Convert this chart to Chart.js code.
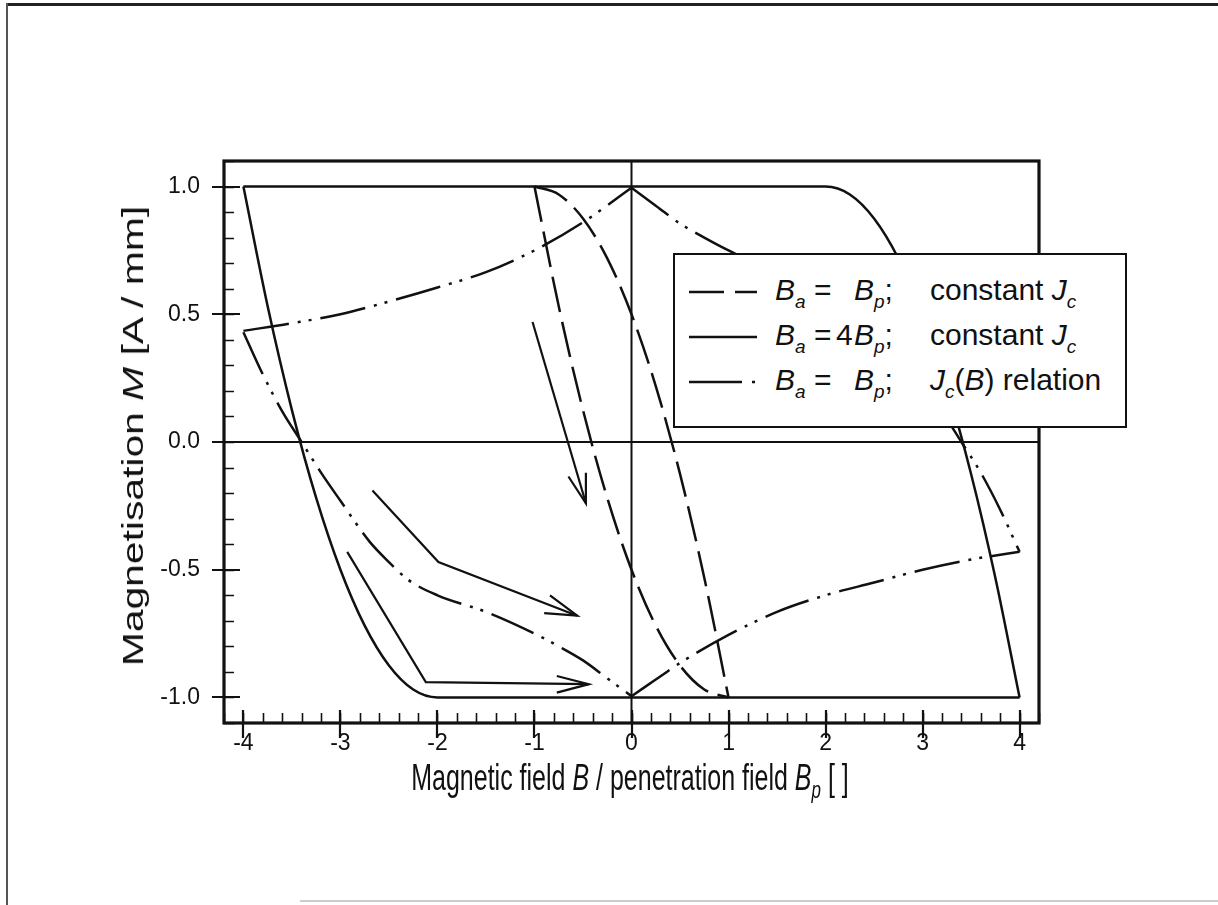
<!DOCTYPE html>
<html><head><meta charset="utf-8">
<script src="https://cdn.jsdelivr.net/npm/chart.js@4.4.1/dist/chart.umd.min.js"></script>
<style>
html,body{margin:0;padding:0;background:#fff;}
#wrap{position:relative;width:1218px;height:905px;overflow:hidden;background:#fff;font-family:"Liberation Sans",Arial,sans-serif;color:#111;}
#c{position:absolute;left:0;top:0;}
.ttl{position:absolute;white-space:nowrap;line-height:1;}
.ttl sub{font-size:0.68em;vertical-align:-0.3em;line-height:0;}
#legend{position:absolute;left:673px;top:253px;width:450px;height:171px;border:2px solid #111;background:#fff;font-size:30px;}
#legend .t{position:absolute;white-space:nowrap;line-height:1;}
#legend sub{font-size:19px;vertical-align:-8px;line-height:0;font-style:italic;}
#legend svg{position:absolute;left:0;top:0;}
.bord{position:absolute;}
</style></head>
<body>
<div id="wrap">
<canvas id="c" width="1218" height="905"></canvas>

<div class="bord" style="left:6px;top:3px;width:1212px;height:3px;background:#222;"></div>
<div class="bord" style="left:6px;top:3px;width:2px;height:902px;background:#555;"></div>
<div class="bord" style="left:300px;top:900px;width:918px;height:2px;background:#ccc;"></div>

<div class="ttl" id="ytitle" style="left:133px;top:436px;font-size:30px;transform:translate(-50%,-50%) rotate(-90deg) scaleX(1.36);">Magnetisation <i>M</i> [A / mm]</div>
<div class="ttl" id="xtitle" style="left:630px;top:778px;font-size:25px;transform:translate(-50%,-50%) scaleY(1.45);">Magnetic field <i>B</i> / penetration field <i>B</i><sub><i>p</i></sub> [ ]</div>

<div id="legend">
  <svg width="100" height="171">
    <line x1="14" y1="37" x2="82" y2="37" stroke="#111" stroke-width="2.5" stroke-dasharray="35 11"/>
    <line x1="14" y1="82" x2="82" y2="82" stroke="#111" stroke-width="2.5"/>
    <line x1="14" y1="127" x2="82" y2="127" stroke="#111" stroke-width="2.5" stroke-dasharray="53 10 3 20"/>
  </svg>
  <div class="t" style="left:100px;top:20px;"><i>B</i><sub>a</sub> =</div>
  <div class="t" style="left:179px;top:20px;"><i>B</i><sub>p</sub>;</div>
  <div class="t" style="left:255px;top:20px;">constant <i>J</i><sub>c</sub></div>

  <div class="t" style="left:100px;top:65px;"><i>B</i><sub>a</sub> =</div>
  <div class="t" style="left:161px;top:65px;">4</div>
  <div class="t" style="left:179px;top:65px;"><i>B</i><sub>p</sub>;</div>
  <div class="t" style="left:255px;top:65px;">constant <i>J</i><sub>c</sub></div>

  <div class="t" style="left:100px;top:110px;"><i>B</i><sub>a</sub> =</div>
  <div class="t" style="left:179px;top:110px;"><i>B</i><sub>p</sub>;</div>
  <div class="t" style="left:255px;top:110px;"><i>J</i><sub>c</sub>(<i>B</i>) relation</div>
</div>
</div>

<script>
// ---------- data (B / Bp , M) ----------
const xTickValues = [-4, -3, -2, -1, 0, 1, 2, 3, 4];
const xTickLabels = ['-4', '-3', '-2', '-1', '0', '1', '2', '3', '4'];
const yTickValues = [-1.0, -0.5, 0.0, 0.5, 1.0];
const yTickLabels = ['-1.0', '-0.5', '0.0', '0.5', '1.0'];

// Ba = Bp, constant Jc (dashed) - two branches
const dashUpper = [[-1,1],[-0.75,0.969],[-0.5,0.875],[-0.25,0.719],[0,0.5],[0.25,0.219],[0.5,-0.125],[0.75,-0.531],[1,-1]];
const dashLower = [[-1,1],[-0.75,0.531],[-0.5,0.125],[-0.25,-0.219],[0,-0.5],[0.25,-0.719],[0.5,-0.875],[0.75,-0.969],[1,-1]];

// Ba = 4Bp, constant Jc (solid)
const solidUpper = [[-4,1],[2,1],[2.25,0.969],[2.5,0.875],[2.75,0.719],[3,0.5],[3.25,0.219],[3.5,-0.125],[3.75,-0.531],[4,-1]];
const solidLower = [[-4,1],[-3.75,0.531],[-3.5,0.125],[-3.25,-0.219],[-3,-0.5],[-2.75,-0.719],[-2.5,-0.875],[-2.25,-0.969],[-2,-1],[4,-1]];

// Ba = Bp, Jc(B) relation (dash-dot-dot)
const jcUpperLeft  = [[-4,0.435],[-3.5,0.465],[-3,0.5],[-2.5,0.55],[-2,0.605],[-1.5,0.665],[-1,0.75],[-0.5,0.86],[0,0.995]];
const jcUpperRight = [[0,0.995],[0.25,0.925],[0.5,0.855],[0.75,0.8],[1,0.75],[1.5,0.665],[2,0.6],[2.3,0.54],[2.5,0.47],[2.7,0.39],[3,0.23],[3.2,0.12],[3.4,0.0],[3.6,-0.12],[3.8,-0.265],[4,-0.43]];
const jcLowerRight = [[0,-0.995],[0.25,-0.93],[0.5,-0.865],[1,-0.755],[1.5,-0.665],[2,-0.6],[2.5,-0.55],[3,-0.5],[3.5,-0.46],[4,-0.43]];
const jcLowerLeft  = [[-4,0.43],[-3.8,0.265],[-3.6,0.12],[-3.4,0.0],[-3.2,-0.12],[-3,-0.23],[-2.7,-0.39],[-2.5,-0.47],[-2.3,-0.54],[-2,-0.6],[-1.5,-0.665],[-1,-0.75],[-0.75,-0.8],[-0.5,-0.855],[-0.25,-0.925],[0,-0.995]];

// annotation arrows
const arrow1 = [[-1.02,0.47],[-0.47,-0.24]];
const head1  = [[-0.65,-0.135],[-0.47,-0.24],[-0.47,-0.12]];
const arrow2 = [[-2.67,-0.19],[-1.99,-0.47],[-0.56,-0.68]];
const head2  = [[-0.84,-0.6],[-0.56,-0.68],[-0.9,-0.67]];
const arrow3 = [[-2.93,-0.43],[-2.12,-0.94],[-0.44,-0.948]];
const head3  = [[-0.77,-0.916],[-0.44,-0.948],[-0.77,-0.981]];

const xMinorStep = 0.2, yMinorStep = 0.1;
// ---------------------------------------

const INK = '#111';
const pts = a => a.map(p => ({x: p[0], y: p[1]}));
function ds(arr, dash, curved, w) {
  return {
    data: pts(arr), showLine: true, pointRadius: 0, borderColor: INK,
    borderWidth: w || 2.5, borderDash: dash || [], fill: false,
    cubicInterpolationMode: curved ? 'monotone' : 'default', tension: 0,
    borderCapStyle: 'butt', borderJoinStyle: 'miter'
  };
}
const DASH = [36, 10];
const DDOT = [46, 9, 3, 8, 3, 9];

const decor = {
  id: 'decor',
  beforeDatasetsDraw(chart) {
    const {ctx, chartArea: a, scales: {x, y}} = chart;
    ctx.save();
    ctx.strokeStyle = INK; ctx.lineWidth = 2;
    const y0 = y.getPixelForValue(0), x0 = x.getPixelForValue(0);
    ctx.beginPath();
    ctx.moveTo(a.left, y0); ctx.lineTo(a.right, y0);
    ctx.moveTo(x0, a.top); ctx.lineTo(x0, a.bottom);
    ctx.stroke();
    ctx.restore();
  },
  afterDatasetsDraw(chart) {
    const {ctx, chartArea: a, scales: {x, y}} = chart;
    ctx.save();
    ctx.strokeStyle = INK;
    ctx.lineWidth = 1.6;
    ctx.beginPath();
    for (let v = -4.2; v <= 4.2001; v += xMinorStep) {
      const px = Math.round(x.getPixelForValue(v)) + 0.5;
      ctx.moveTo(px, a.bottom); ctx.lineTo(px, a.bottom - 10);
    }
    for (let v = -1.1; v <= 1.1001; v += yMinorStep) {
      const py = Math.round(y.getPixelForValue(v)) + 0.5;
      ctx.moveTo(a.left, py); ctx.lineTo(a.left + 10, py);
    }
    ctx.stroke();
    ctx.lineWidth = 2.2;
    ctx.beginPath();
    xTickValues.forEach(v => {
      const px = Math.round(x.getPixelForValue(v));
      ctx.moveTo(px, a.bottom - 13); ctx.lineTo(px, a.bottom + 15);
    });
    yTickValues.forEach(v => {
      const py = Math.round(y.getPixelForValue(v));
      ctx.moveTo(a.left - 12, py); ctx.lineTo(a.left + 16, py);
    });
    ctx.stroke();
    ctx.lineWidth = 3.2;
    ctx.strokeRect(a.left, a.top, a.right - a.left, a.bottom - a.top);
    ctx.restore();
  }
};

new Chart(document.getElementById('c'), {
  type: 'scatter',
  data: {
    datasets: [
      ds(dashUpper, DASH, true), ds(dashLower, DASH, true),
      ds(solidUpper, null, true), ds(solidLower, null, true),
      ds(jcUpperLeft, DDOT, true), ds(jcUpperRight, DDOT, true),
      ds(jcLowerRight, DDOT, true), ds(jcLowerLeft, DDOT, true),
      ds(arrow1, null, false, 2.2), ds(head1, null, false, 2.2),
      ds(arrow2, null, false, 2.2), ds(head2, null, false, 2.2),
      ds(arrow3, null, false, 2.2), ds(head3, null, false, 2.2)
    ]
  },
  options: {
    responsive: false, animation: false, devicePixelRatio: 1,
    layout: {padding: {top: 161, right: 179, left: 0, bottom: 0}},
    plugins: {legend: {display: false}, tooltip: {enabled: false}},
    scales: {
      x: {
        type: 'linear', position: 'bottom', min: -4.2, max: 4.2,
        grid: {display: false, drawTicks: false}, border: {display: false},
        afterBuildTicks: s => { s.ticks = xTickValues.map(v => ({value: v})); },
        afterFit: s => { s.height = 182; },
        ticks: {autoSkip: false, maxRotation: 0, padding: 7, color: INK,
          font: {family: '"Liberation Sans", Arial, sans-serif', size: 23},
          callback: (v, i) => xTickLabels[i]}
      },
      y: {
        type: 'linear', position: 'left', min: -1.1, max: 1.1,
        grid: {display: false, drawTicks: false}, border: {display: false},
        afterBuildTicks: s => { s.ticks = yTickValues.map(v => ({value: v})); },
        afterFit: s => { s.width = 224; },
        ticks: {autoSkip: false, padding: 24, color: INK,
          font: {family: '"Liberation Sans", Arial, sans-serif', size: 23},
          callback: (v, i) => yTickLabels[i]}
      }
    }
  },
  plugins: [decor]
});
</script>
</body></html>
